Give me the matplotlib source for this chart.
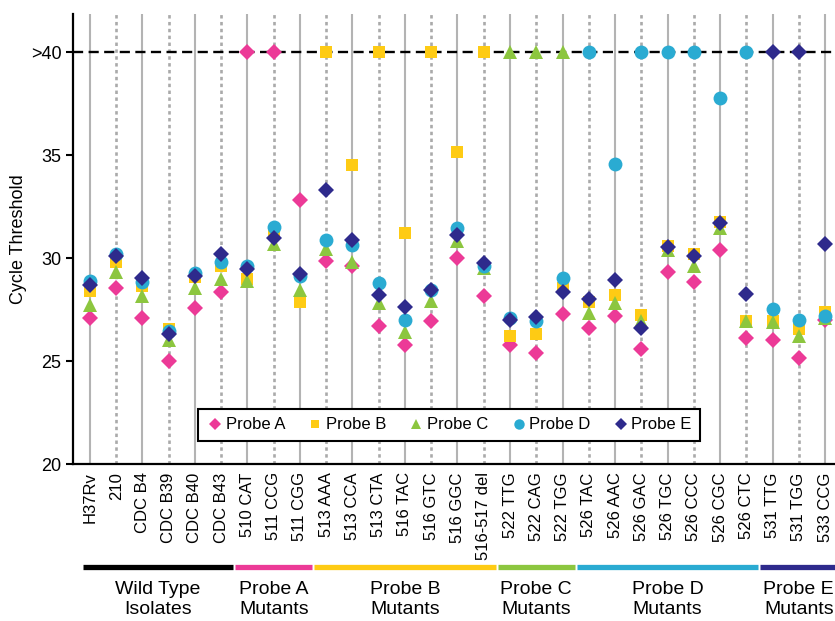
import numpy as np
import matplotlib
matplotlib.use("Agg")
from matplotlib import pyplot as plt
from matplotlib.lines import Line2D

plt.rcParams["font.family"] = ["Liberation Sans", "DejaVu Sans"]

# isolates / rpoB mutations on the x axis
isolates = [
    "H37Rv", "210", "CDC B4", "CDC B39", "CDC B40", "CDC B43",
    "510 CAT", "511 CCG", "511 CGG",
    "513 AAA", "513 CCA", "513 CTA", "516 TAC", "516 GTC", "516 GGC", "516-517 del",
    "522 TTG", "522 CAG", "522 TGG",
    "526 TAC", "526 AAC", "526 GAC", "526 TGC", "526 CCC", "526 CGC", "526 CTC",
    "531 TTG", "531 TGG", "533 CCG",
]

# Ct per probe; 40 means no amplification (">40")
probe_a = [27.1, 28.55, 27.1, 25.0, 27.6, 28.35, 40, 40, 32.8, 29.85, 29.6, 26.7, 25.8, 26.95, 30.0,
           28.15, 25.8, 25.4, 27.3, 26.6, 27.2, 25.6, 29.35, 28.85, 30.4, 26.1, 26.0, 25.15, 27.0]
probe_b = [28.4, 29.8, 28.65, 26.55, 29.1, 29.6, 29.0, 31.3, 27.85, 40, 34.5, 40, 31.2, 40, 35.15,
           40, 26.2, 26.3, 28.55, 27.85, 28.2, 27.25, 30.6, 30.2, 31.75, 26.95, 26.95, 26.55, 27.4]
probe_c = [27.7, 29.35, 28.15, 26.0, 28.55, 29.0, 28.9, 30.7, 28.45, 30.45, 29.8, 27.8, 26.4, 27.9, 30.85,
           29.5, 40, 40, 40, 27.35, 27.8, 26.95, 30.4, 29.6, 31.45, 26.95, 26.9, 26.2, 27.1]
probe_d = [28.9, 30.2, 28.85, 26.45, 29.3, 29.8, 29.6, 31.5, 29.15, 30.9, 30.65, 28.8, 27.0, 28.45, 31.45,
           29.6, 27.1, 26.95, 29.05, 40, 34.55, 40, 40, 40, 37.8, 40, 27.55, 27.0, 27.2]
probe_e = [28.7, 30.1, 29.05, 26.3, 29.15, 30.2, 29.45, 31.0, 29.25, 33.3, 30.9, 28.2, 27.65, 28.45, 31.1,
           29.75, 27.0, 27.15, 28.35, 28.0, 28.95, 26.6, 30.55, 30.1, 31.7, 28.25, 40, 40, 30.7]

probe_names = ["Probe A", "Probe B", "Probe C", "Probe D", "Probe E"]
probe_colors = ["#ec3a97", "#fecb14", "#8cc63f", "#2aabd2", "#2e2a8c"]
probe_markers = ["D", "s", "^", "o", "D"]
probe_sizes = [7.8, 8.6, 10.5, 10.0, 7.8]

# groups under the x axis: (label, first index, last index, colour)
groups = [
    ("Wild Type\nIsolates", 0, 5, "#000000"),
    ("Probe A\nMutants", 6, 8, "#ec3a97"),
    ("Probe B\nMutants", 9, 15, "#fecb14"),
    ("Probe C\nMutants", 16, 18, "#8cc63f"),
    ("Probe D\nMutants", 19, 25, "#2aabd2"),
    ("Probe E\nMutants", 26, 28, "#2e2a8c"),
]

ct_ticks = [20, 25, 30, 35, 40]
ct_labels = ["20", "25", "30", "35", ">40"]

fig = plt.figure(figsize=(8.35, 6.21), dpi=100)
ax = fig.add_axes([0.087, 0.2528, 0.913, 0.7247])

x = np.arange(len(isolates))

# alternating solid / dotted guide lines per isolate
for i in x:
    if i % 2 == 0:
        ax.axvline(i, color="#b3b3b3", lw=1.5, zorder=1)
    else:
        ax.axvline(i, color="#aaaaaa", lw=1.9, linestyle=(0, (1.3, 1.3)), zorder=1)

ax.axhline(40, color="black", lw=1.7, linestyle=(0, (4.3, 2.3)), zorder=2)

all_probes = [probe_a, probe_b, probe_c, probe_d, probe_e]
for vals, name, col, mk, ms in zip(all_probes, probe_names, probe_colors, probe_markers, probe_sizes):
    ax.plot(x, vals, linestyle="none", marker=mk, ms=ms, color=col, mew=0, label=name, zorder=3)

ax.set_xlim(-0.66, 28.38)
ax.set_ylim(20, 41.86)
ax.set_yticks(ct_ticks)
ax.set_yticklabels(ct_labels, fontsize=13)
ax.set_xticks(x)
ax.set_xticklabels(isolates, rotation=90, fontsize=12)
ax.tick_params(axis="x", length=0, pad=6)
ax.tick_params(axis="y", length=5, width=1.5, direction="out", pad=3)
ax.set_ylabel("Cycle Threshold", fontsize=13, labelpad=3)

for side in ["top", "right"]:
    ax.spines[side].set_visible(False)
for side in ["left", "bottom"]:
    ax.spines[side].set_linewidth(1.6)

# legend with smaller markers
handles = [Line2D([], [], linestyle="none", marker=mk, color=col, mew=0, ms=ms * 0.75)
           for col, mk, ms in zip(probe_colors, probe_markers, probe_sizes)]
leg = ax.legend(handles, probe_names, loc="center", bbox_to_anchor=(0.494, 0.087), ncol=5,
                fontsize=12, frameon=True, fancybox=False, framealpha=1, edgecolor="black",
                handlelength=1.0, handletextpad=0.15, columnspacing=1.3, borderpad=0.5)
leg.get_frame().set_linewidth(1.5)
leg.set_zorder(5)

# group bars and labels below the tick labels
trans = ax.get_xaxis_transform()
for k, (label, i0, i1, col) in enumerate(groups):
    left = -0.27 if k == 0 else i0 - 0.5 + 0.04
    right = i1 + 0.5 - 0.04
    ax.plot([left, right], [-0.228, -0.228], color=col, lw=3.8, solid_capstyle="butt",
            transform=trans, clip_on=False)
    ax.text((left + right) / 2, -0.26, label, ha="center", va="top", fontsize=14,
            linespacing=1.22, transform=trans)

fig.savefig("out.png", dpi=100)
